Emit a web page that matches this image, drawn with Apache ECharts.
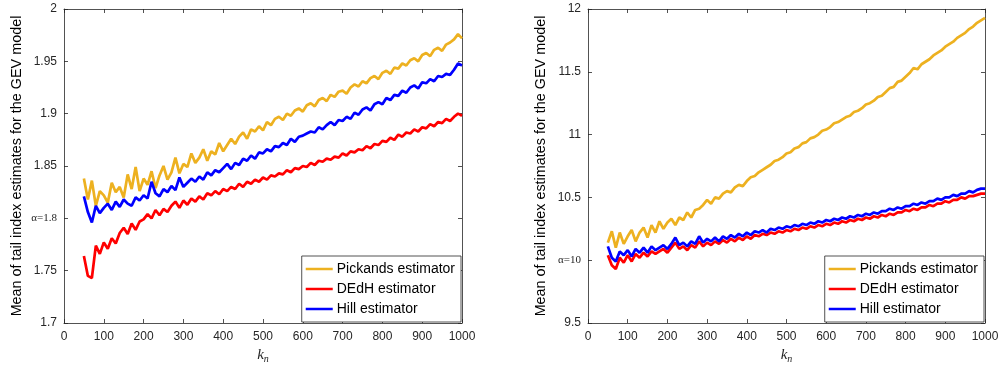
<!DOCTYPE html>
<html><head><meta charset="utf-8">
<script src="https://cdn.jsdelivr.net/npm/echarts@6/dist/echarts.min.js"></script>
<style>html,body{margin:0;padding:0;background:#fff}#c{width:1003px;height:368px}</style>
</head><body><div id="c"></div>
<script>
// k_n grid: 50, 60, ..., 1000
const kValues = [];
for (let k = 50; k <= 1000; k += 10) kValues.push(k);

const seriesNames = ['Pickands estimator', 'DEdH estimator', 'Hill estimator'];

// Left panel (alpha = 1.8)
const pickandsLeft = [1.838,1.818,1.836,1.812,1.826,1.822,1.815,1.834,1.825,1.830,1.820,1.842,1.828,1.849,1.826,1.838,1.832,1.845,1.829,1.841,1.850,1.837,1.844,1.858,1.843,1.852,1.849,1.862,1.853,1.858,1.866,1.855,1.864,1.861,1.872,1.864,1.870,1.876,1.871,1.878,1.882,1.876,1.885,1.883,1.888,1.884,1.892,1.889,1.895,1.897,1.894,1.900,1.898,1.903,1.905,1.902,1.908,1.910,1.907,1.913,1.915,1.912,1.918,1.916,1.921,1.922,1.919,1.925,1.928,1.926,1.931,1.929,1.934,1.936,1.933,1.939,1.941,1.938,1.944,1.943,1.948,1.946,1.951,1.953,1.950,1.956,1.958,1.955,1.961,1.963,1.960,1.966,1.968,1.971,1.976,1.972];
const dedhLeft = [1.764,1.745,1.743,1.774,1.766,1.777,1.771,1.781,1.776,1.786,1.791,1.785,1.795,1.789,1.797,1.799,1.804,1.800,1.808,1.803,1.809,1.806,1.812,1.816,1.810,1.817,1.813,1.819,1.816,1.821,1.818,1.824,1.822,1.826,1.823,1.828,1.826,1.830,1.828,1.833,1.830,1.835,1.833,1.837,1.835,1.839,1.837,1.841,1.840,1.843,1.842,1.846,1.844,1.848,1.847,1.850,1.849,1.853,1.851,1.855,1.854,1.857,1.856,1.859,1.858,1.862,1.860,1.864,1.863,1.866,1.865,1.869,1.867,1.871,1.870,1.874,1.873,1.877,1.875,1.880,1.878,1.882,1.881,1.885,1.883,1.887,1.886,1.890,1.888,1.892,1.891,1.895,1.893,1.897,1.900,1.898];
const hillLeft = [1.821,1.806,1.796,1.812,1.805,1.810,1.814,1.808,1.816,1.811,1.818,1.814,1.812,1.820,1.817,1.822,1.819,1.835,1.824,1.821,1.828,1.825,1.831,1.827,1.839,1.830,1.834,1.838,1.835,1.840,1.837,1.844,1.841,1.846,1.844,1.848,1.852,1.847,1.853,1.851,1.857,1.855,1.860,1.857,1.863,1.862,1.866,1.864,1.869,1.868,1.872,1.870,1.876,1.873,1.878,1.879,1.881,1.883,1.882,1.887,1.885,1.889,1.892,1.889,1.894,1.893,1.897,1.895,1.901,1.899,1.904,1.906,1.903,1.909,1.911,1.909,1.915,1.913,1.918,1.917,1.922,1.920,1.925,1.927,1.924,1.930,1.929,1.933,1.931,1.936,1.935,1.938,1.937,1.942,1.948,1.946];

// Right panel (alpha = 10)
const pickandsRight = [10.14,10.23,10.10,10.22,10.13,10.19,10.24,10.15,10.22,10.26,10.18,10.28,10.22,10.31,10.25,10.30,10.33,10.28,10.34,10.32,10.38,10.34,10.40,10.41,10.44,10.48,10.45,10.50,10.49,10.53,10.55,10.54,10.58,10.60,10.59,10.63,10.66,10.67,10.70,10.72,10.74,10.76,10.79,10.80,10.82,10.85,10.86,10.89,10.90,10.93,10.94,10.97,10.98,11.00,11.03,11.04,11.06,11.09,11.10,11.12,11.14,11.15,11.18,11.19,11.21,11.24,11.25,11.27,11.30,11.31,11.34,11.37,11.38,11.42,11.43,11.46,11.49,11.53,11.52,11.56,11.58,11.60,11.63,11.65,11.67,11.70,11.72,11.74,11.77,11.79,11.81,11.84,11.86,11.89,11.91,11.93];
const dedhRight = [10.04,9.96,9.93,10.02,9.98,10.04,9.99,10.05,10.02,10.06,10.03,10.07,10.05,10.07,10.09,10.06,10.10,10.14,10.09,10.11,10.08,10.12,10.10,10.15,10.11,10.14,10.12,10.15,10.13,10.16,10.14,10.17,10.15,10.18,10.16,10.19,10.17,10.20,10.19,10.21,10.20,10.22,10.21,10.23,10.22,10.24,10.23,10.25,10.24,10.26,10.25,10.27,10.26,10.28,10.27,10.29,10.28,10.30,10.29,10.31,10.30,10.32,10.31,10.33,10.32,10.34,10.33,10.35,10.34,10.36,10.35,10.37,10.36,10.38,10.38,10.40,10.39,10.41,10.40,10.42,10.42,10.44,10.43,10.45,10.45,10.47,10.46,10.48,10.48,10.50,10.49,10.51,10.51,10.52,10.53,10.53];
const hillRight = [10.11,10.02,9.99,10.07,10.04,10.08,10.03,10.09,10.06,10.10,10.06,10.11,10.08,10.10,10.12,10.09,10.13,10.18,10.12,10.14,10.11,10.15,10.13,10.19,10.14,10.17,10.15,10.18,10.15,10.19,10.17,10.20,10.18,10.21,10.19,10.22,10.20,10.23,10.22,10.24,10.22,10.25,10.24,10.26,10.25,10.27,10.26,10.28,10.27,10.29,10.28,10.30,10.29,10.31,10.30,10.32,10.31,10.33,10.32,10.34,10.33,10.35,10.34,10.36,10.35,10.37,10.36,10.38,10.37,10.39,10.39,10.41,10.40,10.42,10.41,10.43,10.43,10.45,10.44,10.46,10.45,10.47,10.47,10.49,10.48,10.50,10.50,10.52,10.51,10.53,10.53,10.55,10.54,10.56,10.57,10.57];

const xTicks = [0,100,200,300,400,500,600,700,800,900,1000];
const yTicksLeft = [1.7,1.75,1.8,1.85,1.9,1.95,2];
const yTicksRight = [9.5,10,10.5,11,11.5,12];
const alphaLeft = 1.8, alphaRight = 10;

const colors = ['#EDB120', '#FF0000', '#0000FF'];
const axisColor = '#262626';
const font = 'Liberation Sans, Arial, Helvetica, sans-serif';
const serif = 'Liberation Serif, Times New Roman, serif';

function pairs(arr){ return kValues.map((k,i)=>[k, arr[i]]); }
function fmt(v){ return String(Math.round(v * 1000) / 1000); }

const grids = [
  {left: 64, right: 541, top: 9, bottom: 45, containLabel: false, outerBoundsMode: 'none'},
  {left: 588, right: 18, top: 9, bottom: 45, containLabel: false, outerBoundsMode: 'none'}
];
const panels = [
  {yTicks: yTicksLeft, alpha: alphaLeft, data: [pickandsLeft, dedhLeft, hillLeft]},
  {yTicks: yTicksRight, alpha: alphaRight, data: [pickandsRight, dedhRight, hillRight]}
];

const xAxes = [], yAxes = [], series = [];
panels.forEach((p, gi) => {
  const xMin = xTicks[0], xMax = xTicks[xTicks.length-1], xInt = xTicks[1]-xTicks[0];
  const yMin = p.yTicks[0], yMax = p.yTicks[p.yTicks.length-1], yInt = p.yTicks[1]-p.yTicks[0];
  const baseX = {
    type: 'value', gridIndex: gi, min: xMin, max: xMax, interval: xInt,
    axisLine: {show: true, onZero: false, lineStyle: {color: axisColor, width: 0.8}},
    axisTick: {show: true, inside: true, length: 4, lineStyle: {color: axisColor, width: 0.8}},
    splitLine: {show: false}
  };
  xAxes.push(Object.assign({}, baseX, {
    position: 'bottom',
    axisLabel: {color: axisColor, fontSize: 12, fontFamily: font, margin: 8, formatter: v => String(v)},
    name: '{k|k}{n|n}', nameLocation: 'middle', nameGap: 22,
    nameTextStyle: {rich: {
      k: {fontFamily: serif, fontStyle: 'italic', fontSize: 15, color: axisColor},
      n: {fontFamily: serif, fontStyle: 'italic', fontSize: 10, color: axisColor, verticalAlign: 'bottom', padding: [8,0,0,0]}
    }}
  }));
  xAxes.push(Object.assign({}, baseX, {position: 'top', axisLabel: {show: false}}));
  const baseY = {
    type: 'value', gridIndex: gi, min: yMin, max: yMax, interval: yInt,
    axisLine: {show: true, onZero: false, lineStyle: {color: axisColor, width: 0.8}},
    axisTick: {show: true, inside: true, length: 4, lineStyle: {color: axisColor, width: 0.8}},
    splitLine: {show: false}
  };
  yAxes.push(Object.assign({}, baseY, {
    position: 'left',
    axisLabel: {
      color: axisColor, fontSize: 12, fontFamily: font, margin: 7,
      formatter: v => Math.abs(v - p.alpha) < 1e-9 ? '{a|\u03b1=' + fmt(v) + '}' : fmt(v),
      rich: {a: {fontFamily: serif, fontSize: 11, color: axisColor}}
    },
    name: 'Mean of tail index estimates for the GEV model',
    nameLocation: 'middle', nameGap: 40, nameRotate: 90,
    nameTextStyle: {color: '#000', fontSize: 14.4, fontFamily: font}
  }));
  yAxes.push(Object.assign({}, baseY, {position: 'right', axisLabel: {show: false}}));
  p.data.forEach((arr, si) => {
    series.push({
      name: seriesNames[si], type: 'line', xAxisIndex: gi*2, yAxisIndex: gi*2,
      data: pairs(arr), symbol: 'none', showSymbol: false, animation: false,
      lineStyle: {color: colors[si], width: 2.7}, itemStyle: {color: colors[si]},
      z: 2 + si
    });
  });
});

const legendBase = {
  orient: 'vertical', bottom: 46, data: seriesNames,
  backgroundColor: '#fff', borderColor: axisColor, borderWidth: 0.8, borderRadius: 0,
  padding: [5, 6, 5, 4], itemWidth: 27, itemHeight: 2.5, itemGap: 4, icon: 'rect',
  textStyle: {color: '#000', fontSize: 14, fontFamily: font, padding: [0,0,0,-1], lineHeight: 16},
  selectedMode: false
};
const legends = [
  Object.assign({}, legendBase, {right: 542}),
  Object.assign({}, legendBase, {right: 19})
];

const chart = echarts.init(document.getElementById('c'), null, {renderer: 'canvas'});
chart.setOption({
  backgroundColor: '#fff', animation: false,
  grid: grids, xAxis: xAxes, yAxis: yAxes, series: series, legend: legends
});
</script></body></html>
